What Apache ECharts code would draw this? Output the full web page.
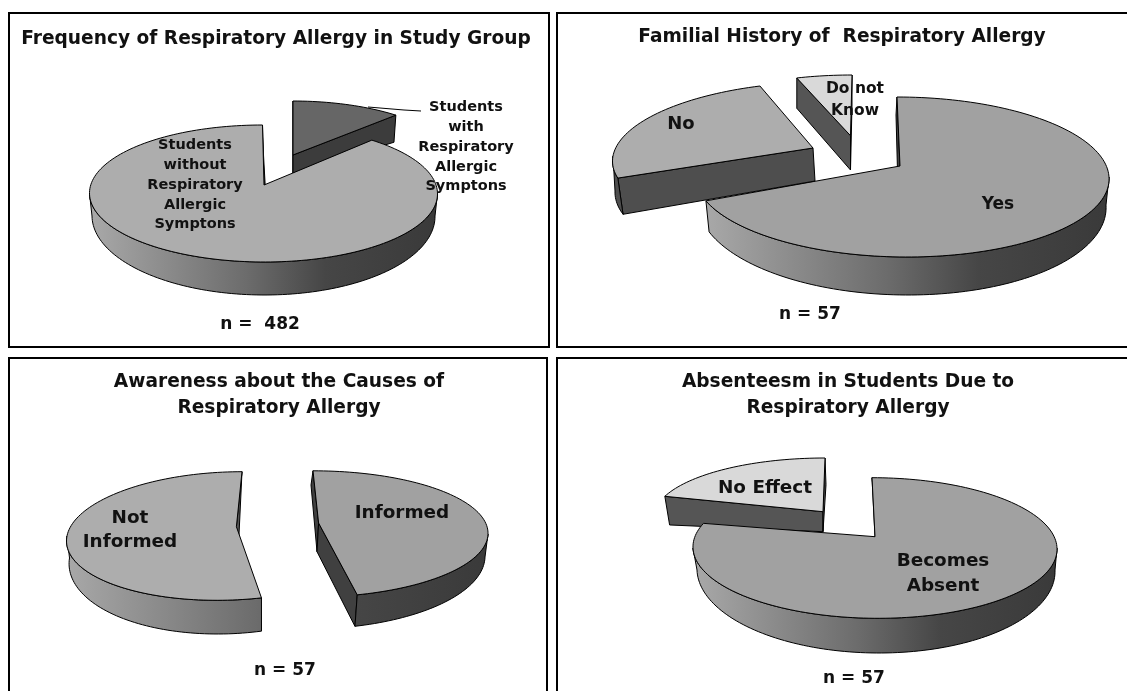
<!DOCTYPE html>
<html><head><meta charset="utf-8">
<style>html,body{margin:0;padding:0;background:#fff}#c{width:1127px;height:691px}</style>
<script src="https://cdn.jsdelivr.net/npm/echarts@6/dist/echarts.min.js"></script>
</head><body><div id="c"></div>
<script>
// ---- data ----
const studyTitle = 'Frequency of Respiratory Allergy in Study Group';
const studyN = 'n =  482';
const studyCategories = ['Students\nwith\nRespiratory\nAllergic\nSymptons', 'Students\nwithout\nRespiratory\nAllergic\nSymptons'];
const studyValues = [52, 430];

const familyTitle = 'Familial History of  Respiratory Allergy';
const familyN = 'n = 57';
const familyCategories = ['Yes', 'No', 'Do not\nKnow'];
const familyValues = [40, 14, 3];

const awareTitle = 'Awareness about the Causes of\nRespiratory Allergy';
const awareN = 'n = 57';
const awareCategories = ['Informed', 'Not\nInformed'];
const awareValues = [26, 31];

const absentTitle = 'Absenteesm in Students Due to\nRespiratory Allergy';
const absentN = 'n = 57';
const absentCategories = ['Becomes\nAbsent', 'No Effect'];
const absentValues = [46, 11];

// ---- layout and styles ----
const FONT = '"DejaVu Sans", "Open Sans", sans-serif';
const wallStops = [
  {offset:0, color:'#a8a8a8'}, {offset:.45, color:'#6c6c6c'},
  {offset:.68, color:'#464646'}, {offset:1, color:'#3a3a3a'}
];
// ellipse: [centre x, centre y, radius x, radius y, skew]
const panels = [
  { cats: studyCategories, vals: studyValues, range:[92,435], slices:[
    { top:[293,165,164,64,0], apex:[293,155], bot:[293,189,161,60,0], apexB:[293,173],
      fill:'#666666', wall:'#3c3c3c', side:'#3c3c3c', z:1, label:[466,147], size:14.5, lh:19.8 },
    { top:[263.5,193.5,174,68.5,-1], apex:[264,185], bot:[263.5,216,171.5,79,-1], apexB:[266,200],
      fill:'#adadad', wall:null, side:'#555555', z:2, label:[195,185], size:14.5, lh:19.8 }
  ]},
  { cats: familyCategories, vals: familyValues, range:[707,1106], slices:[
    { top:[902,177,207,80,-5], apex:[900,166], bot:[902,205,204,90,-6], apexB:[898,190],
      fill:'#a1a1a1', wall:null, side:'#444444', z:1, label:[998,205], size:17, lh:22 },
    { top:[811,156,198,74,14], apex:[813,148], bot:[811,191,196,78,3], apexB:[815,181],
      fill:'#adadad', wall:'#4e4e4e', side:'#4e4e4e', z:2, label:[681,124], size:18, lh:22 },
    { top:[852,130,170,55,0], apex:[850.5,135.7], bot:[852,165,170,60,0], apexB:[850.5,170],
      fill:'#d9d9d9', wall:'#555555', side:'#555555', z:3, label:[855,100], size:15.5, lh:22 }
  ]},
  { cats: awareCategories, vals: awareValues, range:[67,488], slices:[
    { top:[311,534,177,63.2,2], apex:[318.6,523], bot:[309,557,176,72,2], apexB:[317,551.7],
      fill:'#a1a1a1', wall:null, side:'#404040', z:1, label:[402,513], size:18.4, lh:24 },
    { top:[229.4,536,162.4,64.3,12.6], apex:[236.4,526.7], bot:[229.5,558,160,76,12], apexB:[238.5,545],
      fill:'#adadad', wall:null, side:'#555555', z:2, label:[130,530], size:18.4, lh:24 }
  ]},
  { cats: absentCategories, vals: absentValues, range:[696,1055], slices:[
    { top:[875,548,182,70.3,-3], apex:[875,536.7], bot:[876,570,179,83,-3], apexB:[877,555],
      fill:'#a1a1a1', wall:null, side:'#444444', z:2, label:[943,574], size:18.4, lh:25 },
    { top:[825,517,171,59,0], apex:[823,511.7], bot:[826,546.7,167,62,0], apexB:[823,531.7],
      fill:'#d9d9d9', wall:'#555555', side:'#555555', z:1, label:[765,488], size:18.4, lh:25 }
  ]}
];

const FRONT0 = Math.PI / 2, FRONT1 = Math.PI * 3 / 2, EPS = 1e-6;
const rim = (e, a) => [e[0] + e[2]*Math.sin(a) + e[4]*Math.cos(a), e[1] - e[3]*Math.cos(a)];
function arc(e, a0, a1) {
  const n = Math.max(2, Math.ceil((a1 - a0) / 0.03)), out = [];
  for (let i = 0; i <= n; i++) out.push(rim(e, a0 + (a1 - a0) * i / n));
  return out;
}
function slicer(panel) {
  const total = panel.vals.reduce((a, b) => a + b, 0);
  return function (params, api) {
    const i = params.dataIndex, s = panel.slices[i];
    let before = 0;
    for (let k = 0; k < i; k++) before += panel.vals[k];
    const a0 = before / total * 2 * Math.PI;
    const a1 = (before + api.value(0)) / total * 2 * Math.PI;
    const line = {stroke:'#000', lineWidth:1, lineJoin:'round'};
    const wallFill = s.wall || new echarts.graphic.LinearGradient(panel.range[0], 0, panel.range[1], 0, wallStops, true);
    const poly = (points, fill, z2) => ({type:'polygon', z2, shape:{points}, style:Object.assign({fill}, line)});
    const base = s.z * 10, children = [];
    // radial walls: only those that face the viewer
    if (a0 >= Math.PI || a0 < EPS) children.push(poly([s.apex, rim(s.top,a0), rim(s.bot,a0), s.apexB], s.side, base));
    if (a1 < Math.PI || a1 > 2*Math.PI - EPS) children.push(poly([s.apex, rim(s.top,a1), rim(s.bot,a1), s.apexB], s.side, base));
    // only the part of the outer wall that faces the viewer
    const f0 = Math.max(a0, FRONT0), f1 = Math.min(a1, FRONT1);
    if (f1 > f0) children.push(poly(arc(s.top,f0,f1).concat(arc(s.bot,f0,f1).reverse()), wallFill, base+1));
    children.push(poly([s.apex].concat(arc(s.top,a0,a1)), s.fill, base+2));
    children.push({type:'text', z2:100, style:{
      text: panel.cats[i], x:s.label[0], y:s.label[1], align:'center', verticalAlign:'middle',
      fill:'#111', font:'bold '+s.size+'px '+FONT, lineHeight:s.lh
    }});
    return {type:'group', children};
  };
}
const series = panels.map(p => ({
  type:'custom', coordinateSystem:'none', silent:true, animation:false,
  renderItem: slicer(p),
  data: p.vals.map((v, i) => ({name:p.cats[i], value:[v]}))
}));

const titleFor = (text, x, y, size, lh) => ({
  text, left:x, top:y, textAlign:'center', padding:0,
  textStyle:{fontFamily:FONT, fontWeight:'bold', fontSize:size, color:'#111', lineHeight:lh}
});
const frame = (x, y, w, h) => ({type:'rect', z:0, silent:true, shape:{x,y,width:w,height:h},
  style:{fill:'none', stroke:'#000', lineWidth:2}});

const option = {
  backgroundColor:'#fff', animation:false,
  title:[
    titleFor(studyTitle, 276, 27, 18.6, 24),
    titleFor(familyTitle, 842, 25, 18.6, 24),
    titleFor(awareTitle, 279, 369, 18.6, 26),
    titleFor(absentTitle, 848, 369, 18.6, 26),
    titleFor(studyN, 260, 313, 17, 24),
    titleFor(familyN, 810, 303, 17, 24),
    titleFor(awareN, 285, 659, 17, 24),
    titleFor(absentN, 854, 667, 17, 24)
  ],
  graphic:[
    frame(9, 13, 540, 334),
    frame(557, 13, 600, 334),
    frame(9, 358, 538, 360),
    frame(557, 358, 600, 360),
    {type:'polyline', z:50, silent:true, shape:{points:[[368,107],[404,110],[421,111]]},
     style:{fill:'none', stroke:'#000', lineWidth:1}}
  ],
  series
};
const chart = echarts.init(document.getElementById('c'), null, {renderer:'canvas'});
chart.setOption(option);
</script></body></html>
